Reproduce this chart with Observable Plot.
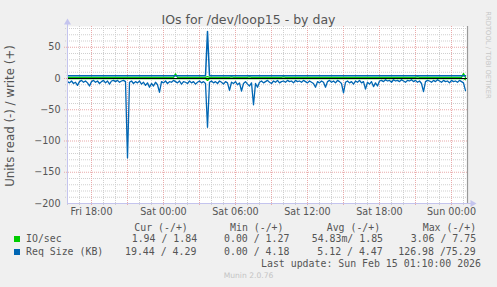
<!DOCTYPE html>
<html><head><meta charset="utf-8">
<script src="https://cdn.jsdelivr.net/npm/d3@7"></script>
<script src="https://cdn.jsdelivr.net/npm/@observablehq/plot@0.6"></script>
<style>
html,body{margin:0;padding:0;background:#f0f0f0;}
#wrap{position:relative;width:497px;height:287px;overflow:hidden;background:#f0f0f0;font-family:"DejaVu Sans",sans-serif;}
#wrap svg{position:absolute;left:0;top:0;}
.t{position:absolute;white-space:pre;line-height:12px;}
.mono{font-family:"DejaVu Sans Mono",monospace;font-size:9.9px;color:#555;}
.sq{position:absolute;width:6px;height:6px;}
</style></head><body><div id="wrap"></div>
<script>
// ---- data (10-minute samples, starting Fri 13 Feb 2026 16:00 UTC) ----
const seriesStart = "2026-02-13T16:00:00Z";
const domainEnd = "2026-02-15T01:20:00Z";
const stepMinutes = 10;

const readReqSize = [
 5,7,4,8,6,11,5,3,6,4,7,12,5,3,6,4,8,5,3,7,
 4,9,4,3,5,3,6,4,3,5,126.98,6,4,8,5,7,4,9,6,11,
 7,14,8,12,6,10,22,5,7,4,8,5,6,3,5,7,4,9,5,6,
 8,4,7,5,9,6,4,7,5,8,78,6,4,7,5,8,4,6,9,5,
 7,19,6,8,5,10,7,20,8,5,9,12,7,42,8,14,6,4,7,5,
 3,6,8,4,6,3,7,5,4,6,3,5,4,7,3,5,4,6,3,5,
 7,4,6,8,14,5,7,4,6,14,5,3,6,4,7,3,5,8,23,6,
 4,7,5,9,4,6,3,7,5,17,6,9,5,13,7,12,4,3,5,2,
 4,3,6,2,4,3,5,2,4,6,3,4,2,5,3,6,4,8,21,5,
 3,4,6,3,5,2,4,6,3,5,4,7,3,5,4,6,3,5,7,19.44
];
const writeReqSize = [
 4.4,4.5,4.4,4.3,4.5,4.4,4.6,4.4,4.3,4.4,4.5,4.4,4.4,4.3,4.5,4.4,4.4,4.6,4.4,4.3,
 4.4,4.5,4.4,4.4,4.3,4.5,4.4,4.4,4.5,4.4,4.6,4.4,4.3,4.5,4.4,4.4,4.5,4.3,4.4,4.5,
 4.4,4.6,4.4,4.5,4.4,4.3,4.5,4.4,4.4,4.5,4.4,4.3,4.4,4.6,4.5,4.4,4.4,4.3,4.5,4.4,
 4.4,4.5,4.4,4.3,4.4,4.5,4.4,4.4,4.6,4.4,75.29,4.5,4.4,4.3,4.4,4.5,4.4,4.6,4.4,4.4,
 4.5,4.4,4.6,4.4,4.3,4.5,4.4,4.4,4.5,4.4,4.3,4.6,4.4,4.5,4.4,4.3,4.4,4.5,4.4,4.4,
 4.5,4.4,4.3,4.4,4.5,4.4,4.4,4.6,4.5,4.4,4.3,4.4,4.5,4.4,4.4,4.3,4.5,4.4,4.4,4.5,
 4.4,4.3,4.4,4.5,4.4,4.6,4.4,4.4,4.3,4.5,4.4,4.4,4.5,4.4,4.3,4.4,4.5,4.4,4.4,4.5,
 4.4,4.3,4.5,4.4,4.4,4.5,4.4,4.3,4.4,4.6,4.4,4.5,4.4,4.4,4.3,4.5,4.4,4.4,4.5,4.4,
 4.3,4.4,4.5,4.4,4.4,4.3,4.5,4.4,4.4,4.5,4.4,4.3,4.4,4.5,4.4,4.6,4.5,4.4,4.4,4.3,
 4.4,4.5,4.4,4.4,4.3,4.5,4.4,4.4,4.5,4.4,4.3,4.4,4.5,4.4,4.4,4.3,4.5,4.4,4.6,4.29
];
const writeIOs = [
 1.85,1.84,1.86,1.85,1.83,1.85,1.87,1.84,1.85,1.86,1.85,1.84,1.85,1.83,1.86,1.85,1.84,1.85,1.87,1.85,
 1.84,1.86,1.85,1.83,1.85,1.86,1.84,1.85,1.87,1.85,1.84,1.85,1.86,1.83,1.85,1.84,1.86,1.85,1.85,1.84,
 1.86,1.85,1.83,1.85,1.84,1.86,1.85,1.87,1.84,1.85,1.86,1.84,1.85,1.83,7.5,1.85,1.86,1.84,1.85,1.85,
 1.84,1.86,1.85,1.83,1.85,1.84,1.86,1.85,1.85,1.84,3.0,1.85,1.86,1.84,1.85,1.83,1.85,1.86,1.84,1.85,
 1.85,1.84,2.6,1.85,1.86,1.84,1.85,1.83,1.85,1.86,1.84,2.5,1.85,1.85,1.84,1.86,1.85,1.83,1.85,1.84,
 1.86,1.85,1.84,1.85,1.83,1.86,1.85,1.84,2.6,1.85,1.86,1.84,1.85,1.85,1.83,1.86,1.84,1.85,1.85,1.84,
 1.86,1.85,1.83,1.85,1.84,1.86,1.85,1.85,1.84,1.83,1.86,1.85,1.84,1.85,1.86,1.84,1.85,1.83,1.85,1.86,
 1.84,1.85,1.85,1.83,1.86,1.84,1.85,1.86,1.85,1.84,1.83,1.85,1.86,1.84,1.85,1.85,1.84,1.86,1.85,1.83,
 1.85,1.84,1.86,1.85,1.85,1.84,1.83,1.86,1.85,1.84,1.85,1.86,1.85,1.84,1.83,2.7,1.85,1.84,1.86,1.85,
 1.84,1.85,1.86,1.83,1.85,1.84,1.85,1.86,1.85,1.84,1.85,1.83,1.86,1.85,1.84,1.85,1.86,1.85,7.75,1.84
];
const readIOs = [
 0.05,0.04,0.06,0.05,0.03,0.05,0.07,0.04,0.05,0.06,0.05,0.04,0.05,0.03,0.06,0.05,0.04,0.05,0.07,0.05,
 0.04,0.06,0.05,0.03,0.05,0.06,0.04,0.05,0.07,0.05,0.04,0.05,0.06,0.03,0.05,0.04,0.06,0.05,0.05,0.04,
 0.06,0.05,0.03,0.05,0.04,0.06,0.05,0.07,0.04,0.05,0.06,0.04,0.05,0.03,0.05,0.05,0.06,0.04,0.05,0.05,
 0.04,0.06,0.05,0.03,0.05,0.04,0.06,0.05,0.05,0.04,3.06,0.05,0.06,0.04,0.05,0.03,0.05,0.06,0.04,0.05,
 0.05,0.04,0.06,0.05,0.06,0.04,0.05,0.03,0.05,0.06,0.04,0.05,0.05,0.05,0.04,0.06,0.05,0.03,0.05,0.04,
 0.06,0.05,0.04,0.05,0.03,0.06,0.05,0.04,0.06,0.05,0.06,0.04,0.05,0.05,0.03,0.06,0.04,0.05,0.05,0.04,
 0.06,0.05,0.03,0.05,0.04,0.06,0.05,0.05,0.04,0.03,0.06,0.05,0.04,0.05,0.06,0.04,0.05,0.03,0.05,0.06,
 0.04,0.05,0.05,0.03,0.06,0.04,0.05,0.06,0.05,0.04,0.03,0.05,0.06,0.04,0.05,0.05,0.04,0.06,0.05,0.03,
 0.05,0.04,0.06,0.05,0.05,0.04,0.03,0.06,0.05,0.04,0.05,0.06,0.05,0.04,0.03,0.05,0.05,0.04,0.06,0.05,
 0.04,0.05,0.06,0.03,0.05,0.04,0.05,0.06,0.05,0.04,0.05,0.03,0.06,0.05,0.04,0.05,0.06,0.05,0.05,1.94
];
const yTickValues = [-200,-150,-100,-50,0,50];
const yDomain = [-200, 83.2];
const legendHeader = ["Cur (-/+)", "Min (-/+)", "Avg (-/+)", "Max (-/+)"];
const legendNames = ["IO/sec", "Req Size (KB)"];
const legendColors = ["#00CC00", "#0066B3"];
const legendValues = [
  ["1.94 / 1.84", "0.00 / 1.27", "54.83m/ 1.85", "3.06 / 7.75"],
  ["19.44 / 4.29", "0.00 / 4.18", "5.12 / 4.47", "126.98 /75.29"]
];
const titleText = "IOs for /dev/loop15 - by day";
const yLabelText = "Units read (-) / write (+)";
const lastUpdate = "Last update: Sun Feb 15 01:10:00 2026";
const footer = "Munin 2.0.76";
const sideText = "RRDTOOL / TOBI OETIKER";

// ---- build ----
const t0 = new Date(seriesStart), tEnd = new Date(domainEnd);
const rows = readReqSize.map((v, i) => ({
  t: new Date(+t0 + i * stepMinutes * 60000),
  rr: -v, wr: writeReqSize[i], ri: -readIOs[i], wi: writeIOs[i]
}));
const hourMinor = d3.utcHour.range(t0, tEnd).filter(d => d.getUTCHours() % 3 !== 0);
const hourMajor = d3.utcHour.every(3).range(t0, tEnd);
const hourLabels = d3.utcHour.every(6).range(t0, tEnd);
const yMinor = d3.range(-190, yDomain[1], 10).filter(v => v % 50 !== 0);
const yMajor = d3.range(-150, yDomain[1], 50);

const minorC = "#cfcfcf", majorC = "#e9aaaa", axisC = "#c4c4ee";
const plot = Plot.plot({
  width: 497, height: 222,
  marginLeft: 67, marginRight: 30, marginTop: 26, marginBottom: 19,
  style: {fontFamily: "DejaVu Sans", fontSize: "9.6px", color: "#555", background: "transparent", overflow: "visible"},
  x: {type: "utc", domain: [t0, tEnd]},
  y: {domain: yDomain},
  marks: [
    Plot.frame({fill: "white", stroke: null}),
    Plot.ruleY(yMinor, {stroke: minorC, strokeDasharray: "1,1", insetLeft: -2}),
    Plot.ruleX(hourMinor, {stroke: minorC, strokeDasharray: "1,1", insetBottom: -2}),
    Plot.ruleY(yMajor, {stroke: majorC, strokeDasharray: "1,1", insetLeft: -3}),
    Plot.ruleX(hourMajor, {stroke: majorC, strokeDasharray: "1,1", insetBottom: -3}),
    Plot.line(rows, {x: "t", y: "ri", stroke: "#00CC00", strokeWidth: 1.3}),
    Plot.line(rows, {x: "t", y: "wi", stroke: "#00CC00", strokeWidth: 1.3}),
    Plot.ruleY([0], {stroke: "#000", strokeWidth: 1}),
    Plot.line(rows, {x: "t", y: "rr", stroke: "#0066B3", strokeWidth: 1.3}),
    Plot.line(rows, {x: "t", y: "wr", stroke: "#0066B3", strokeWidth: 1.5}),
    Plot.ruleX([t0], {stroke: axisC, strokeWidth: 1, insetTop: -3}),
    Plot.ruleY([yDomain[0]], {stroke: axisC, strokeWidth: 1, insetRight: -5}),
    Plot.dot([t0], {x: d => d, frameAnchor: "top", symbol: "triangle", r: 2.6, fill: axisC, stroke: null, dy: -4}),
    Plot.dot([yDomain[0]], {y: d => d, frameAnchor: "right", symbol: "triangle", rotate: 90, r: 2.6, fill: axisC, stroke: null, dx: 5}),
    Plot.ruleX([tEnd], {stroke: "#999", strokeWidth: 1.2}),
    Plot.axisY({ticks: yTickValues, tickSize: 0, tickPadding: 7, label: null}),
    Plot.axisX({ticks: hourLabels, tickFormat: d3.utcFormat("%a %H:%M"), tickSize: 0, tickPadding: 5, label: null})
  ]
});
const wrap = document.getElementById("wrap");
wrap.appendChild(plot);

function addText(txt, css, cls) {
  const d = document.createElement("div");
  d.className = "t" + (cls ? " " + cls : "");
  d.textContent = txt;
  Object.assign(d.style, css);
  wrap.appendChild(d);
  return d;
}
addText(titleText, {left: "0px", width: "497px", textAlign: "center", top: "12px", fontSize: "12.5px", color: "#555", lineHeight: "15px"});
addText(yLabelText, {left: "10px", top: "116px", fontSize: "11.8px", color: "#555", lineHeight: "14px", transform: "translate(-50%,-50%) rotate(-90deg)"});
addText(sideText, {left: "488px", top: "55px", fontSize: "6.8px", color: "#c6c6c6", lineHeight: "8px", transform: "translate(-50%,-50%) rotate(90deg)"});

const colLeft = [[134.3, 230, 326.7, 422.7], [131.7, 224, 311.7, 410.7], [125, 224, 317.3, 398.3]];
legendHeader.forEach((h, j) => addText(h, {left: colLeft[0][j] + "px", top: "221.5px"}, "mono"));
legendNames.forEach((n, r) => {
  const top = 233.3 + r * 12.4;
  const sq = document.createElement("div");
  sq.className = "sq";
  Object.assign(sq.style, {left: "14px", top: (top + 3) + "px", background: legendColors[r]});
  wrap.appendChild(sq);
  addText(n, {left: "26px", top: top + "px"}, "mono");
  legendValues[r].forEach((v, j) => addText(v, {left: colLeft[r + 1][j] + "px", top: top + "px"}, "mono"));
});
addText(lastUpdate, {left: "261px", top: "257.7px"}, "mono");
addText(footer, {left: "0px", width: "497px", textAlign: "center", top: "271px", fontSize: "7.6px", color: "#c4c4c4", lineHeight: "9px"});
</script></body></html>
